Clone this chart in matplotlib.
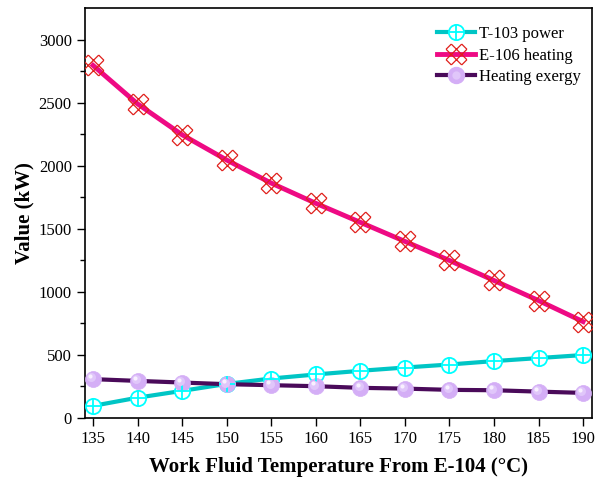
import matplotlib
matplotlib.use("Agg")
import matplotlib.pyplot as plt
from matplotlib.path import Path
from matplotlib.lines import Line2D
from matplotlib import transforms
import numpy as np

plt.rcParams['font.family'] = ['Liberation Serif', 'DejaVu Serif']

temps = [135, 140, 145, 150, 155, 160, 165, 170, 175, 180, 185, 190]
t103_power = [96, 161, 215, 270, 313, 345, 374, 400, 424, 451, 475, 499]
e106_heating = [2795, 2490, 2245, 2045, 1862, 1702, 1551, 1400, 1249, 1090, 931, 764]
heating_exergy = [308, 294, 281, 268, 260, 252, 239, 233, 223, 220, 209, 199]

labels = ["T-103 power", "E-106 heating", "Heating exergy"]

# cross-hatched marker: X-shaped set of cells in a 45-degree rotated grid
def uv(u, v):
    return ((u + v) / 2.0, (u - v) / 2.0)

segs = []
for a in (-0.5, 0.5):
    segs.append((uv(a, -1.5), uv(a, 1.5)))
    segs.append((uv(-1.5, a), uv(1.5, a)))
for a in (-1.5, 1.5):
    segs.append((uv(a, -0.5), uv(a, 0.5)))
    segs.append((uv(-0.5, a), uv(0.5, a)))
verts, codes = [], []
for p0, p1 in segs:
    verts += [p0, p1]
    codes += [Path.MOVETO, Path.LINETO]
xhatch = Path(verts, codes)

fig = plt.figure(figsize=(5.97, 4.82), dpi=100)
ax = fig.add_axes([0.1424, 0.1328, 0.8492, 0.8506])

cyan_line = '#00C5C5'
cyan_edge = '#00FFFF'
pink_line = '#EE0A84'
red_edge = '#E0201C'
purple_line = '#4A0A5A'
lav = '#D4AEF6'

hl = transforms.offset_copy(ax.transData, fig=fig, x=-1.2, y=1.2, units='points')
hl2 = transforms.offset_copy(ax.transData, fig=fig, x=-2.0, y=2.0, units='points')

ax.plot(temps, t103_power, color=cyan_line, lw=3.0, zorder=3)
ax.plot(temps, t103_power, ls='none', marker='o', ms=11, mfc='white', mec=cyan_edge, mew=1.3, zorder=4)
ax.plot(temps, t103_power, ls='none', marker='+', ms=11, mec=cyan_edge, mew=1.3, zorder=5)

ax.plot(temps, e106_heating, color=pink_line, lw=3.5, zorder=3)
ax.plot(temps, e106_heating, ls='none', marker=xhatch, ms=15, mfc='none', mec=red_edge, mew=0.9, zorder=4)

ax.plot(temps, heating_exergy, color=purple_line, lw=3.0, zorder=3)
ax.plot(temps, heating_exergy, ls='none', marker='o', ms=11.5, mfc=lav, mec=lav, mew=0.5, zorder=4)
ax.plot(temps, heating_exergy, ls='none', marker='o', ms=6.5, mfc='#E0C6FA', mec='none', zorder=5,
        transform=hl)
ax.plot(temps, heating_exergy, ls='none', marker='o', ms=3, mfc='#F8F0FF', mec='none', zorder=6,
        transform=hl2)

ax.set_xlim(134.1, 191.0)
ax.set_ylim(0, 3250)
ax.set_xticks(temps)
ax.set_yticks([0, 500, 1000, 1500, 2000, 2500, 3000])
ax.set_yticks(np.arange(250, 3250, 500), minor=True)
ax.tick_params(axis='both', which='major', direction='out', length=6, width=1.0, labelsize=12, colors='black')
ax.tick_params(axis='y', which='minor', direction='out', length=3.5, width=1.0)
for s in ax.spines.values():
    s.set_linewidth(1.2)

ax.set_xlabel('Work Fluid Temperature From E-104 (\u00b0C)', fontsize=15, fontweight='bold', labelpad=7)
ax.set_ylabel('Value (kW)', fontsize=15, fontweight='bold', labelpad=3)

h1 = (Line2D([], [], color=cyan_line, lw=3.0),
      Line2D([], [], ls='none', marker='o', ms=11, mfc='white', mec=cyan_edge, mew=1.3),
      Line2D([], [], ls='none', marker='+', ms=11, mec=cyan_edge, mew=1.3))
h2 = (Line2D([], [], color=pink_line, lw=3.5),
      Line2D([], [], ls='none', marker=xhatch, ms=15, mfc='none', mec=red_edge, mew=0.9))
h3 = (Line2D([], [], color=purple_line, lw=3.0),
      Line2D([], [], ls='none', marker='o', ms=11.5, mfc=lav, mec=lav),
      Line2D([], [], ls='none', marker='o', ms=6, mfc='#E0C6FA', mec='none'))
ax.legend([h1, h2, h3], labels, loc='upper right', frameon=False, fontsize=12.0,
          handlelength=2.3, handletextpad=0.25, labelspacing=0.33, borderaxespad=0.25,
          bbox_to_anchor=(1.0, 0.982))

fig.savefig('out.png', dpi=100)
